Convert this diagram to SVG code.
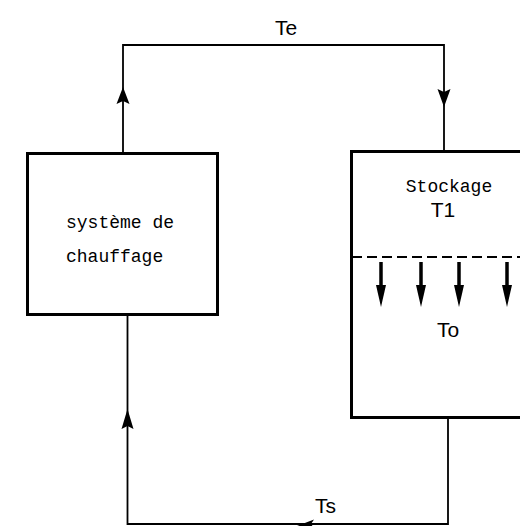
<svg xmlns="http://www.w3.org/2000/svg" width="520" height="526" viewBox="0 0 520 526">
<style>
.box{fill:none;stroke:#000;stroke-width:3}
.wire{fill:none;stroke:#000;stroke-width:1.8}
.mono{font-family:"Liberation Mono","DejaVu Sans Mono",monospace;font-size:18px;fill:#000}
.lbl{font-family:"Liberation Sans","DejaVu Sans",sans-serif;font-size:21px;fill:#000}
.ah{fill:#000}
.flow{stroke:#000;stroke-width:3.5}
</style>
<rect width="520" height="526" fill="#fff"/>
<g id="connectors">
  <polyline class="wire" points="123,153 123,45 444,45 444,151"/>
  <polygon class="ah" points="123,87 116.5,104 123,101 129.5,104"/>
  <polygon class="ah" points="444,107 437.5,89 444,92 450.5,89"/>
  <polyline class="wire" points="448,417 448,524 127.5,524 127.5,314"/>
  <polygon class="ah" points="127.5,409 121.5,429 127.5,426 133.5,429"/>
  <polygon class="ah" points="297,526 314,519.5 311,524 314,528"/>
  <text class="lbl" x="275" y="35">Te</text>
  <text class="lbl" x="315" y="513">Ts</text>
</g>
<g id="chauffage">
  <rect class="box" x="27.5" y="153.5" width="190" height="161"/>
  <text class="mono" x="66" y="228">système de</text>
  <text class="mono" x="66" y="262">chauffage</text>
</g>
<g id="stockage">
  <rect class="box" x="351.5" y="151.5" width="180" height="266"/>
  <text class="mono" x="449" y="192" text-anchor="middle">Stockage</text>
  <text class="lbl" x="443" y="217" text-anchor="middle">T1</text>
  <line x1="352" y1="257" x2="520" y2="257" stroke="#000" stroke-width="2" stroke-dasharray="10,5"/>
  <g>
    <line class="flow" x1="381" y1="262" x2="381" y2="290"/>
    <polygon class="ah" points="381,307 376,285 386,285"/>
    <line class="flow" x1="421" y1="262" x2="421" y2="290"/>
    <polygon class="ah" points="421,307 416,285 426,285"/>
    <line class="flow" x1="459" y1="262" x2="459" y2="290"/>
    <polygon class="ah" points="459,307 454,285 464,285"/>
    <line class="flow" x1="507" y1="262" x2="507" y2="290"/>
    <polygon class="ah" points="507,307 502,285 512,285"/>
  </g>
  <text class="lbl" x="448" y="337" text-anchor="middle">To</text>
</g>
</svg>
